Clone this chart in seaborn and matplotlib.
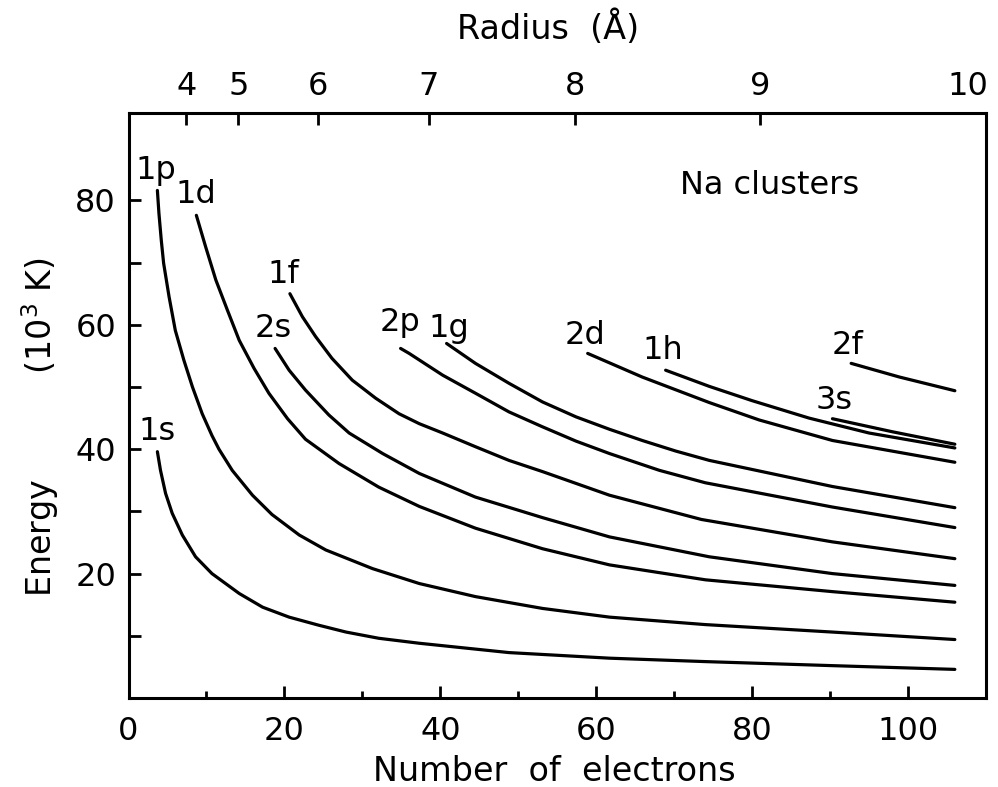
import matplotlib
matplotlib.use("Agg")
import matplotlib.pyplot as plt
import numpy as np
import pandas as pd
import seaborn as sns

# Single-particle level energies (10^3 K) vs. number of electrons for Na clusters
n_1s = [3.7, 4.1, 4.75, 5.6, 6.9, 8.6, 10.7, 14.2, 17.2, 20.6, 24.4, 27.9, 32.1, 37.3,
        48.8, 61.7, 74.0, 90.3, 106.0]
e_1s = [39.6, 36.6, 32.9, 29.7, 26.2, 22.7, 20.0, 16.8, 14.6, 13.0, 11.7, 10.6, 9.6, 8.8,
        7.3, 6.4, 5.85, 5.2, 4.6]

n_1p = [3.7, 3.9, 4.2, 4.5, 5.2, 6.0, 7.1, 8.2, 9.45, 10.7, 11.6, 13.3, 15.9, 18.4, 21.9,
        25.3, 31.3, 37.3, 44.5, 53.1, 61.7, 74.0, 90.3, 106.0]
e_1p = [81.6, 77.9, 73.6, 69.9, 64.5, 59.1, 54.3, 50.0, 45.7, 42.2, 40.0, 36.6, 32.6, 29.5, 26.2,
        23.8, 20.8, 18.4, 16.3, 14.4, 13.0, 11.8, 10.6, 9.4]

n_1d = [8.7, 9.9, 11.2, 12.7, 14.2, 16.1, 18.0, 20.4, 22.7, 27.0, 32.1, 37.3, 44.5, 53.1,
        61.7, 74.0, 90.3, 106.0]
e_1d = [77.6, 72.5, 67.2, 62.3, 57.5, 53.0, 49.0, 44.9, 41.6, 37.7, 33.9, 30.8, 27.3, 24.0,
        21.4, 19.0, 17.1, 15.4]

n_2s = [18.8, 20.6, 22.7, 25.7, 28.3, 32.6, 37.3, 44.5, 53.1, 61.7, 74.5, 90.3, 106.0]
e_2s = [56.2, 52.7, 49.5, 45.5, 42.6, 39.3, 36.1, 32.3, 29.0, 25.9, 22.7, 20.0, 18.1]

n_1f = [20.7, 22.3, 24.0, 26.1, 28.7, 31.7, 34.7, 37.3, 40.3, 44.5, 48.8, 53.1, 57.4, 61.7,
        73.5, 90.3, 106.0]
e_1f = [65.0, 61.3, 58.1, 54.6, 51.1, 48.2, 45.7, 44.1, 42.6, 40.4, 38.2, 36.4, 34.5, 32.6,
        28.7, 25.1, 22.4]

n_2p = [34.9, 36.0, 40.3, 44.5, 48.8, 53.1, 57.4, 61.7, 68.1, 74.0, 90.3, 106.0]
e_2p = [56.2, 55.4, 51.9, 49.0, 46.0, 43.6, 41.3, 39.3, 36.6, 34.6, 30.7, 27.4]

n_1g = [40.8, 44.5, 48.8, 53.1, 57.4, 61.7, 65.9, 70.2, 74.5, 90.3, 106.0]
e_1g = [57.0, 53.8, 50.6, 47.6, 45.2, 43.2, 41.4, 39.7, 38.2, 34.0, 30.6]

n_2d = [58.9, 65.9, 74.5, 80.9, 90.3, 106.0]
e_2d = [55.4, 51.6, 47.5, 44.7, 41.4, 37.9]

n_1h = [68.9, 74.5, 80.0, 87.3, 95.0, 106.0]
e_1h = [52.7, 50.1, 47.8, 45.0, 42.6, 40.2]

n_3s = [90.3, 98.0, 106.0]
e_3s = [44.9, 42.8, 40.8]

n_2f = [92.7, 98.9, 106.0]
e_2f = [53.8, 51.6, 49.4]

level_names = ["1s", "1p", "1d", "2s", "1f", "2p", "1g", "2d", "1h", "3s", "2f"]
level_n = [n_1s, n_1p, n_1d, n_2s, n_1f, n_2p, n_1g, n_2d, n_1h, n_3s, n_2f]
level_e = [e_1s, e_1p, e_1d, e_2s, e_1f, e_2p, e_1g, e_2d, e_1h, e_3s, e_2f]

# Where each level name is written
label_n = [3.6, 3.55, 8.6, 18.5, 19.9, 34.8, 41.1, 58.5, 68.5, 90.5, 92.2]
label_e = [42.9, 84.8, 81.0, 59.4, 68.1, 60.3, 59.4, 58.2, 55.9, 47.9, 56.6]

# Top axis: cluster radius (Å) and the electron number it corresponds to
radius_labels = ["4", "5", "6", "7", "8", "9", "10"]
radius_n = [7.4, 14.1, 24.3, 38.5, 57.3, 81.0, 107.7]

x_major = [0, 20, 40, 60, 80, 100]
x_minor = [10, 30, 50, 70, 90]
y_major = [20, 40, 60, 80]
y_minor = [10, 30, 50, 70]

frames = [pd.DataFrame({"N": n, "E": e, "level": name})
          for name, n, e in zip(level_names, level_n, level_e)]
df = pd.concat(frames, ignore_index=True)

sns.set_theme(style="ticks")
plt.rcParams["font.family"] = ["DejaVu Sans"]
plt.rcParams["mathtext.default"] = "regular"
plt.rcParams["text.color"] = "black"
plt.rcParams["axes.labelcolor"] = "black"
plt.rcParams["xtick.color"] = "black"
plt.rcParams["ytick.color"] = "black"
plt.rcParams["lines.solid_capstyle"] = "round"
plt.rcParams["lines.solid_joinstyle"] = "round"

fig = plt.figure(figsize=(9.98, 7.87), dpi=100)
ax = fig.add_axes([0.1288, 0.1131, 0.8592, 0.7429])

sns.lineplot(data=df, x="N", y="E", hue="level", units="level", estimator=None,
             palette={k: "black" for k in level_names}, linewidth=2.3,
             legend=False, sort=True, ax=ax)

ax.set_xlim(0, 110)
ax.set_ylim(0, 94)

fs = 23
for name, x, y in zip(level_names, label_n, label_e):
    ax.text(x, y, name, fontsize=fs, ha="center", va="center", color="black")
ax.text(82.2, 82.4, "Na clusters", fontsize=fs, ha="center", va="center", color="black")

for side in ["left", "right", "top", "bottom"]:
    ax.spines[side].set_linewidth(2.2)
    ax.spines[side].set_color("black")

ax.set_xticks(x_major)
ax.set_xticks(x_minor, minor=True)
ax.set_yticks(y_major)
ax.set_yticks(y_minor, minor=True)
ax.tick_params(axis="both", which="both", direction="in", width=2.0, colors="black",
               labelsize=fs, top=False, right=False)
ax.tick_params(axis="x", which="major", length=8.5, pad=13)
ax.tick_params(axis="x", which="minor", length=5)
ax.tick_params(axis="y", which="major", length=8.5, pad=9)
ax.tick_params(axis="y", which="minor", length=8.5)

ax.set_xlabel("Number  of  electrons", fontsize=24, va="top")
ax.xaxis.set_label_coords(0.497, -0.098)
ax.set_ylabel("Energy" + " " * 10 + "(10$^{3}$ K)", fontsize=24)
ax.yaxis.set_label_coords(-0.079, 0.463)

top = ax.twiny()
top.set_xlim(ax.get_xlim())
top.set_xticks(radius_n)
top.set_xticklabels(radius_labels)
top.xaxis.set_minor_locator(matplotlib.ticker.NullLocator())
top.tick_params(axis="x", which="major", direction="in", length=8.5, width=2.0,
                labelsize=fs, pad=8, colors="black")
top.xaxis.get_major_ticks()[-1].tick2line.set_visible(False)
top.set_xlabel("Radius  (Å)", fontsize=24, va="bottom")
top.xaxis.set_label_coords(0.489, 1.116)
for side in ["left", "right", "top", "bottom"]:
    top.spines[side].set_visible(False)

fig.savefig("out.png", dpi=100, facecolor="white")
